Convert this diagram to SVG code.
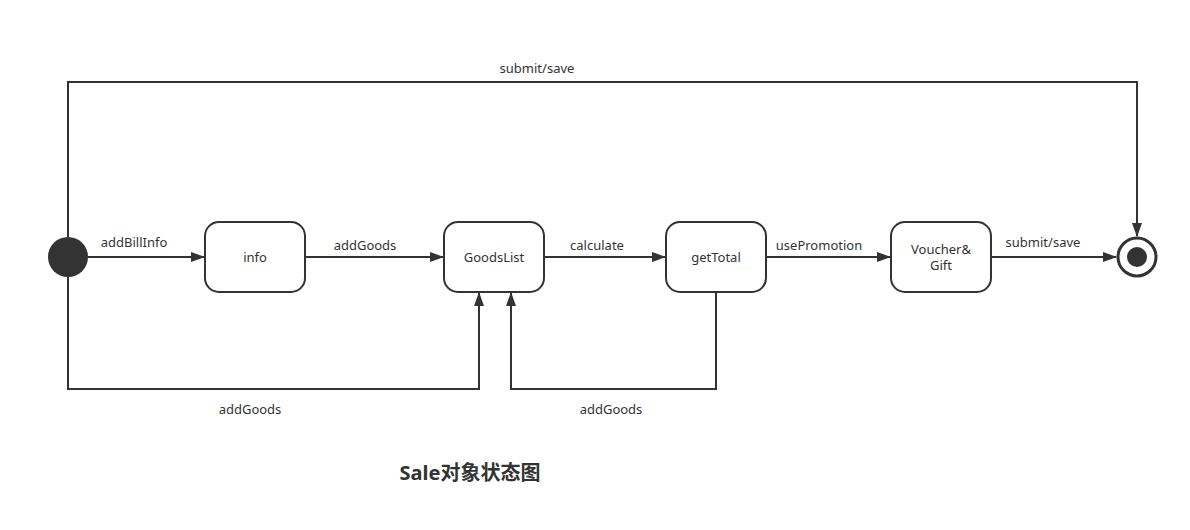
<svg xmlns="http://www.w3.org/2000/svg" width="1190" height="530" viewBox="0 0 1190 530">
<style>
.n{fill:#fff;stroke:#333;stroke-width:2}
.c{fill:none;stroke:#333;stroke-width:2}
text{font-family:"Noto Sans","Noto Sans CJK SC",sans-serif;font-size:13px;fill:#333;text-anchor:middle}
.t{font-size:20px;font-weight:bold}
</style>
<defs>
<marker id="a" markerWidth="14" markerHeight="10" refX="13" refY="5" orient="auto" markerUnits="userSpaceOnUse">
<path d="M0,0 L14,5 L0,10 Z" fill="#333"/>
</marker>
</defs>
<rect width="1190" height="530" fill="#fff"/>
<g id="connectors">
<path class="c" d="M68,237 V82 H1137 V236" marker-end="url(#a)"/>
<path class="c" d="M88,257 H204" marker-end="url(#a)"/>
<path class="c" d="M305,257 H443" marker-end="url(#a)"/>
<path class="c" d="M544,257 H665" marker-end="url(#a)"/>
<path class="c" d="M766,257 H890" marker-end="url(#a)"/>
<path class="c" d="M991,257 H1116" marker-end="url(#a)"/>
<path class="c" d="M68,277 V389 H479 V293" marker-end="url(#a)"/>
<path class="c" d="M716,292 V389 H511 V293" marker-end="url(#a)"/>
<text x="537" y="73">submit/save</text>
<text x="134" y="247">addBillInfo</text>
<text x="365" y="250">addGoods</text>
<text x="597" y="250">calculate</text>
<text x="819" y="250">usePromotion</text>
<text x="1043" y="247">submit/save</text>
<text x="250" y="414">addGoods</text>
<text x="611" y="414">addGoods</text>
</g>
<g id="initial"><circle cx="68" cy="257" r="20" fill="#333"/></g>
<g id="info"><rect class="n" x="205" y="222" width="100" height="70" rx="14"/><text x="255" y="262">info</text></g>
<g id="goodslist"><rect class="n" x="444" y="222" width="100" height="70" rx="14"/><text x="494" y="262">GoodsList</text></g>
<g id="gettotal"><rect class="n" x="666" y="222" width="100" height="70" rx="14"/><text x="716" y="262">getTotal</text></g>
<g id="voucher"><rect class="n" x="891" y="222" width="100" height="70" rx="14"/><text x="941" y="254">Voucher&amp;</text><text x="941" y="270">Gift</text></g>
<g id="final"><circle cx="1137" cy="257" r="19" fill="#fff" stroke="#333" stroke-width="3"/><circle cx="1137" cy="257" r="10" fill="#333"/></g>
<text class="t" x="470" y="480">Sale对象状态图</text>
</svg>
